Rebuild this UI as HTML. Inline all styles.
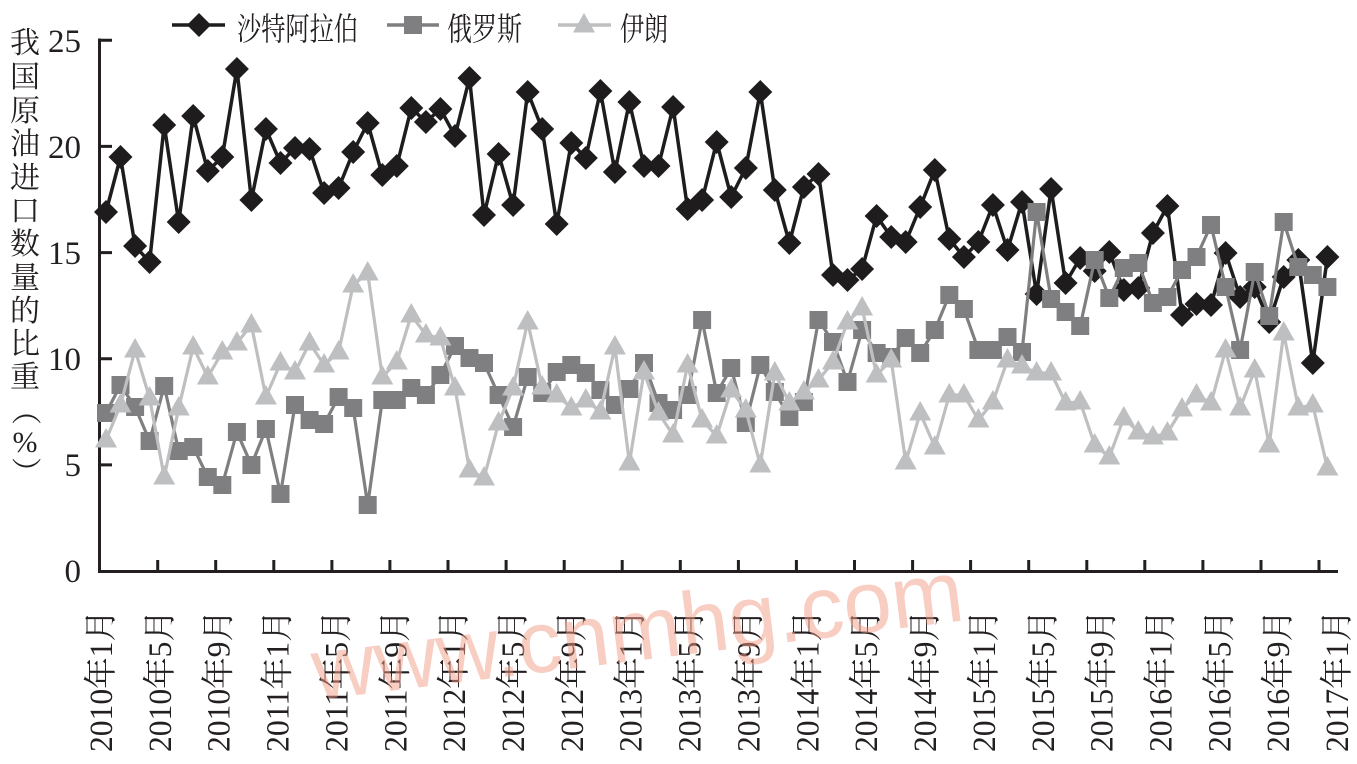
<!DOCTYPE html>
<html><head><meta charset="utf-8"><style>html,body{margin:0;padding:0;background:#fff}svg{display:block}</style></head>
<body>
<svg width="1357" height="764" viewBox="0 0 1357 764" xmlns="http://www.w3.org/2000/svg">
<defs>
<marker id="md" markerUnits="userSpaceOnUse" viewBox="-13 -13 26 26" markerWidth="26" markerHeight="26" refX="0" refY="0" overflow="visible"><path d="M0,-12 L12,0 L0,12 L-12,0Z" fill="#1e1c1d"/></marker>
<marker id="ms" markerUnits="userSpaceOnUse" viewBox="-10 -10 20 20" markerWidth="20" markerHeight="20" refX="0" refY="0" overflow="visible"><path d="M-9,-9h18v18h-18z" fill="#7f7f81"/></marker>
<marker id="mt" markerUnits="userSpaceOnUse" viewBox="-13 -13 26 26" markerWidth="26" markerHeight="26" refX="0" refY="0" overflow="visible"><path d="M0,-12 L11,7.5 L-11,7.5Z" fill="#bebfc1"/></marker>
</defs>
<rect width="1357" height="764" fill="#fff"/>

<!-- Legend -->
<g>
<line x1="172" y1="25" x2="225" y2="25" stroke="#1e1c1d" stroke-width="3.5"/>
<path d="M199,13 L211,25 L199,37 L187,25Z" fill="#1e1c1d"/>
<text x="237" y="40" font-family="'Noto Serif CJK SC','Liberation Serif',serif" font-size="32" textLength="121" lengthAdjust="spacingAndGlyphs" fill="#231f20">沙特阿拉伯</text>
<line x1="387" y1="25" x2="439" y2="25" stroke="#7f7f81" stroke-width="3.5"/>
<rect x="404" y="16" width="18" height="18" fill="#7f7f81"/>
<text x="447" y="40" font-family="'Noto Serif CJK SC','Liberation Serif',serif" font-size="32" textLength="75" lengthAdjust="spacingAndGlyphs" fill="#231f20">俄罗斯</text>
<line x1="558" y1="25" x2="611" y2="25" stroke="#bebfc1" stroke-width="3.5"/>
<path d="M584,13 L595,32.5 L573,32.5Z" fill="#bebfc1"/>
<text x="620" y="40" font-family="'Noto Serif CJK SC','Liberation Serif',serif" font-size="32" textLength="48" lengthAdjust="spacingAndGlyphs" fill="#231f20">伊朗</text>
</g>

<!-- Y axis title -->
<g font-family="'Noto Serif CJK SC','Liberation Serif',serif" font-size="30" fill="#231f20" text-anchor="middle">
<text x="25" y="53">我</text>
<text x="25" y="87">国</text>
<text x="25" y="121">原</text>
<text x="25" y="154">油</text>
<text x="25" y="188">进</text>
<text x="25" y="221">口</text>
<text x="25" y="254">数</text>
<text x="25" y="288">量</text>
<text x="25" y="321">的</text>
<text x="25" y="354">比</text>
<text x="25" y="387">重</text>
<text transform="translate(25,410) rotate(90)" x="0" y="10">（</text>
<text x="25" y="452" font-family="'Liberation Serif',serif">%</text>
<text transform="translate(25,472) rotate(90)" x="0" y="10">）</text>
</g>

<!-- Y tick labels -->
<g font-family="'Liberation Serif',serif" font-size="33" fill="#231f20" text-anchor="end">
<text x="81" y="52">25</text>
<text x="81" y="158">20</text>
<text x="81" y="264">15</text>
<text x="81" y="370">10</text>
<text x="81" y="476">5</text>
<text x="81" y="582">0</text>
</g>

<!-- Axes -->
<g stroke="#231f20" stroke-width="3" fill="none">
<line x1="99.5" y1="38.5" x2="99.5" y2="572.5"/>
<line x1="98" y1="571.5" x2="1338" y2="571.5"/>
<path d="M99,40.3H112M99,146.4H112M99,252.6H112M99,358.7H112M99,464.9H112"/>
<path d="M157.7,571V560M215.7,571V560M273.8,571V560M331.9,571V560M389.9,571V560M448,571V560M506.1,571V560M564.2,571V560M622.2,571V560M680.3,571V560M738.4,571V560M796.4,571V560M854.5,571V560M912.6,571V560M970.6,571V560M1028.7,571V560M1086.8,571V560M1144.8,571V560M1202.9,571V560M1261,571V560M1319,571V560"/>
</g>

<!-- X labels -->
<g font-family="'Liberation Serif','Noto Serif CJK SC',serif" font-size="33" fill="#231f20">
<text transform="translate(112,752) rotate(-90)" textLength="142" lengthAdjust="spacingAndGlyphs">2010年1月</text>
<text transform="translate(170.9,752) rotate(-90)" textLength="142" lengthAdjust="spacingAndGlyphs">2010年5月</text>
<text transform="translate(229.7,752) rotate(-90)" textLength="142" lengthAdjust="spacingAndGlyphs">2010年9月</text>
<text transform="translate(288.6,752) rotate(-90)" textLength="142" lengthAdjust="spacingAndGlyphs">2011年1月</text>
<text transform="translate(347.4,752) rotate(-90)" textLength="142" lengthAdjust="spacingAndGlyphs">2011年5月</text>
<text transform="translate(406.3,752) rotate(-90)" textLength="142" lengthAdjust="spacingAndGlyphs">2011年9月</text>
<text transform="translate(465.2,752) rotate(-90)" textLength="142" lengthAdjust="spacingAndGlyphs">2012年1月</text>
<text transform="translate(524,752) rotate(-90)" textLength="142" lengthAdjust="spacingAndGlyphs">2012年5月</text>
<text transform="translate(582.9,752) rotate(-90)" textLength="142" lengthAdjust="spacingAndGlyphs">2012年9月</text>
<text transform="translate(641.7,752) rotate(-90)" textLength="142" lengthAdjust="spacingAndGlyphs">2013年1月</text>
<text transform="translate(700.6,752) rotate(-90)" textLength="142" lengthAdjust="spacingAndGlyphs">2013年5月</text>
<text transform="translate(759.5,752) rotate(-90)" textLength="142" lengthAdjust="spacingAndGlyphs">2013年9月</text>
<text transform="translate(818.3,752) rotate(-90)" textLength="142" lengthAdjust="spacingAndGlyphs">2014年1月</text>
<text transform="translate(877.2,752) rotate(-90)" textLength="142" lengthAdjust="spacingAndGlyphs">2014年5月</text>
<text transform="translate(936,752) rotate(-90)" textLength="142" lengthAdjust="spacingAndGlyphs">2014年9月</text>
<text transform="translate(994.9,752) rotate(-90)" textLength="142" lengthAdjust="spacingAndGlyphs">2015年1月</text>
<text transform="translate(1053.8,752) rotate(-90)" textLength="142" lengthAdjust="spacingAndGlyphs">2015年5月</text>
<text transform="translate(1112.6,752) rotate(-90)" textLength="142" lengthAdjust="spacingAndGlyphs">2015年9月</text>
<text transform="translate(1171.5,752) rotate(-90)" textLength="142" lengthAdjust="spacingAndGlyphs">2016年1月</text>
<text transform="translate(1230.3,752) rotate(-90)" textLength="142" lengthAdjust="spacingAndGlyphs">2016年5月</text>
<text transform="translate(1289.2,752) rotate(-90)" textLength="142" lengthAdjust="spacingAndGlyphs">2016年9月</text>
<text transform="translate(1348,752) rotate(-90)" textLength="142" lengthAdjust="spacingAndGlyphs">2017年1月</text>
</g>

<!-- Series: Saudi Arabia -->
<polyline fill="none" stroke="#1e1c1d" stroke-width="3.5" stroke-linejoin="round" marker-start="url(#md)" marker-mid="url(#md)" marker-end="url(#md)" points="106,212 120.5,157 135.1,246 149.6,262 164.2,125 178.7,222 193.2,116 207.8,171 222.3,157 236.9,69 251.4,200 265.9,129 280.5,163 295,148 309.6,149 324.1,193 338.6,188 353.2,152 367.7,123 382.3,175 396.8,166 411.3,108 425.9,122 440.4,109 455,136 469.5,78 484,215 498.6,154 513.1,205 527.7,92 542.2,129 556.7,224 571.3,143 585.8,158 600.4,91 614.9,172 629.4,102 644,166 658.5,166 673.1,107 687.6,209 702.1,200 716.7,142 731.2,197 745.8,168 760.3,92 774.8,190 789.4,243 803.9,187 818.5,174 833,275 847.5,280 862.1,269 876.6,216 891.2,237 905.7,242 920.2,207 934.8,170 949.3,239 963.9,257 978.4,242 992.9,205 1007.5,250 1022,202 1036.6,294 1051.1,189 1065.6,283 1080.2,258 1094.7,271 1109.3,252 1123.8,290 1138.3,288 1152.9,233 1167.4,206 1182,315 1196.5,304 1211,305 1225.6,253 1240.1,297 1254.7,287 1269.2,322 1283.7,277 1298.3,260 1312.8,363 1327.4,257"/>

<!-- Series: Russia -->
<polyline fill="none" stroke="#7f7f81" stroke-width="3.2" stroke-linejoin="round" marker-start="url(#ms)" marker-mid="url(#ms)" marker-end="url(#ms)" points="106,413 120.5,385 135.1,407 149.6,441 164.2,386 178.7,451 193.2,447 207.8,477 222.3,485 236.9,432 251.4,465 265.9,429 280.5,494 295,405 309.6,420 324.1,424 338.6,397 353.2,408 367.7,505 382.3,400 396.8,400 411.3,388 425.9,395 440.4,375 455,346 469.5,358 484,363 498.6,395 513.1,427 527.7,377 542.2,393 556.7,372 571.3,365 585.8,373 600.4,390 614.9,405 629.4,389 644,363 658.5,403 673.1,410 687.6,395 702.1,320 716.7,393 731.2,368 745.8,423 760.3,365 774.8,392 789.4,417 803.9,402 818.5,320 833,342 847.5,382 862.1,330 876.6,353 891.2,357 905.7,338 920.2,353 934.8,330 949.3,295 963.9,309 978.4,350 992.9,350 1007.5,337 1022,352 1036.6,212 1051.1,299 1065.6,312 1080.2,326 1094.7,260 1109.3,298 1123.8,268 1138.3,263 1152.9,303 1167.4,297 1182,270 1196.5,257 1211,225 1225.6,287 1240.1,350 1254.7,272 1269.2,316 1283.7,222 1298.3,267 1312.8,275 1327.4,287"/>

<!-- Series: Iran -->
<polyline fill="none" stroke="#bebfc1" stroke-width="3.2" stroke-linejoin="round" marker-start="url(#mt)" marker-mid="url(#mt)" marker-end="url(#mt)" points="106,440 120.5,405 135.1,350 149.6,398 164.2,477 178.7,408 193.2,347 207.8,377 222.3,352 236.9,343 251.4,325 265.9,397 280.5,363 295,372 309.6,343 324.1,365 338.6,352 353.2,285 367.7,273 382.3,377 396.8,362 411.3,315 425.9,335 440.4,338 455,388 469.5,470 484,478 498.6,423 513.1,388 527.7,322 542.2,387 556.7,395 571.3,408 585.8,400 600.4,412 614.9,347 629.4,463 644,372 658.5,413 673.1,435 687.6,365 702.1,420 716.7,436 731.2,390 745.8,410 760.3,465 774.8,373 789.4,403 803.9,392 818.5,380 833,362 847.5,322 862.1,308 876.6,375 891.2,360 905.7,462 920.2,413 934.8,447 949.3,395 963.9,395 978.4,420 992.9,402 1007.5,360 1022,366 1036.6,373 1051.1,373 1065.6,403 1080.2,402 1094.7,445 1109.3,457 1123.8,418 1138.3,432 1152.9,437 1167.4,433 1182,409 1196.5,395 1211,403 1225.6,350 1240.1,408 1254.7,370 1269.2,445 1283.7,333 1298.3,408 1312.8,405 1327.4,468"/>

<!-- Watermark -->
<text transform="translate(316,700) rotate(-7)" font-family="'Liberation Sans',sans-serif" font-size="88" textLength="655" lengthAdjust="spacingAndGlyphs" fill="#f29c86" opacity="0.5">www.cnmhg.com</text>
</svg>
</body></html>
